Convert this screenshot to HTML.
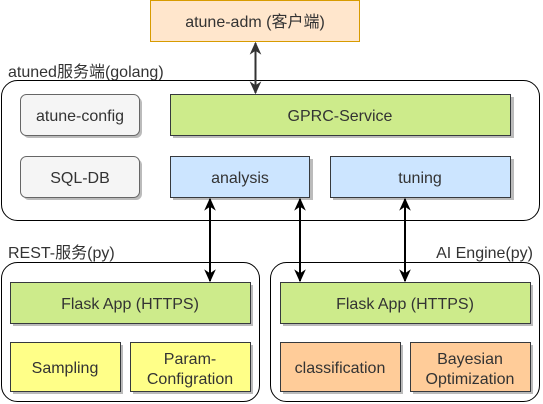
<!DOCTYPE html>
<html><head><meta charset="utf-8"><style>
html,body{margin:0;padding:0;background:#fff;}
svg{display:block;}
text{font-family:"Liberation Sans","Noto Sans CJK SC",sans-serif;font-size:16px;fill:#333;}
</style></head><body>
<svg width="543" height="404" viewBox="0 0 543 404" xmlns="http://www.w3.org/2000/svg">
<defs>
<marker id="ah" viewBox="0 0 10 10" refX="9" refY="5" markerWidth="13" markerHeight="13" markerUnits="userSpaceOnUse" orient="auto-start-reverse">
<path d="M0,0.5 L10,5 L0,9.5 L3,5 Z" fill="#000"/></marker>
<marker id="ah2" viewBox="0 0 10 10" refX="9" refY="5" markerWidth="13" markerHeight="13" markerUnits="userSpaceOnUse" orient="auto-start-reverse">
<path d="M0,0.5 L10,5 L0,9.5 L3,5 Z" fill="#333"/></marker>
</defs>
<rect x="150.5" y="0.5" width="209" height="41" fill="#ffe6cc" stroke="#d79b00"/>
<text x="255" y="27" text-anchor="middle">atune-adm (客户端)</text>
<text x="8" y="77">atuned服务端(golang)</text>
<rect x="1.5" y="80.5" width="538" height="140" rx="16" fill="#fff" stroke="#000"/>
<text x="8" y="258">REST-服务(py)</text>
<rect x="1.5" y="262.5" width="258" height="139" rx="16" fill="#fff" stroke="#000"/>
<text x="533" y="258" text-anchor="end">AI Engine(py)</text>
<rect x="270.5" y="262.5" width="269" height="139" rx="16" fill="#fff" stroke="#000"/>
<g fill="#bbb">
<rect x="23" y="97" width="119" height="41" rx="6"/>
<rect x="23" y="159" width="119" height="41" rx="6"/>
<rect x="173" y="97" width="341" height="41"/>
<rect x="173" y="159" width="140" height="41"/>
<rect x="333" y="159" width="181" height="41"/>
<rect x="13" y="285" width="240" height="41"/>
<rect x="283" y="285" width="250" height="41"/>
<rect x="13" y="345" width="110" height="49"/>
<rect x="133" y="345" width="120" height="49"/>
<rect x="283" y="345" width="120" height="49"/>
<rect x="413" y="345" width="120" height="49"/>
</g>
<rect x="20.5" y="94.5" width="119" height="41" rx="6" fill="#f5f5f5" stroke="#666"/>
<text x="80" y="121" text-anchor="middle">atune-config</text>
<rect x="20.5" y="156.5" width="119" height="41" rx="6" fill="#f5f5f5" stroke="#666"/>
<text x="80" y="183" text-anchor="middle">SQL-DB</text>
<rect x="170.5" y="94.5" width="340" height="41" fill="#cdeb8b" stroke="#36393d"/>
<text x="340" y="121" text-anchor="middle">GPRC-Service</text>
<rect x="170.5" y="156.5" width="139" height="41" fill="#cce5ff" stroke="#36393d"/>
<text x="240" y="183" text-anchor="middle">analysis</text>
<rect x="330.5" y="156.5" width="180" height="41" fill="#cce5ff" stroke="#36393d"/>
<text x="420" y="183" text-anchor="middle">tuning</text>
<rect x="10.5" y="282.5" width="240" height="41" fill="#cdeb8b" stroke="#36393d"/>
<text x="130" y="309" text-anchor="middle">Flask App (HTTPS)</text>
<rect x="280.5" y="282.5" width="250" height="41" fill="#cdeb8b" stroke="#36393d"/>
<text x="405" y="309" text-anchor="middle">Flask App (HTTPS)</text>
<rect x="10.5" y="342.5" width="110" height="49" fill="#ffff88" stroke="#36393d"/>
<text x="65" y="373" text-anchor="middle">Sampling</text>
<rect x="130.5" y="342.5" width="120" height="49" fill="#ffff88" stroke="#36393d"/>
<text x="190" y="364" text-anchor="middle">Param-</text>
<text x="190" y="384" text-anchor="middle">Configration</text>
<rect x="280.5" y="342.5" width="120" height="49" fill="#ffcc99" stroke="#36393d"/>
<text x="340" y="373" text-anchor="middle">classification</text>
<rect x="410.5" y="342.5" width="120" height="49" fill="#ffcc99" stroke="#36393d"/>
<text x="470" y="364" text-anchor="middle">Bayesian</text>
<text x="470" y="384" text-anchor="middle">Optimization</text>
<line x1="255.5" y1="43" x2="255.5" y2="93" stroke="#333" stroke-width="2" marker-start="url(#ah2)" marker-end="url(#ah2)"/>
<line x1="210" y1="199" x2="210" y2="281" stroke="#000" stroke-width="2" marker-start="url(#ah)" marker-end="url(#ah)"/>
<line x1="300" y1="199" x2="300" y2="281" stroke="#000" stroke-width="2" marker-start="url(#ah)" marker-end="url(#ah)"/>
<line x1="405" y1="199" x2="405" y2="281" stroke="#000" stroke-width="2" marker-start="url(#ah)" marker-end="url(#ah)"/>
</svg>
</body></html>
